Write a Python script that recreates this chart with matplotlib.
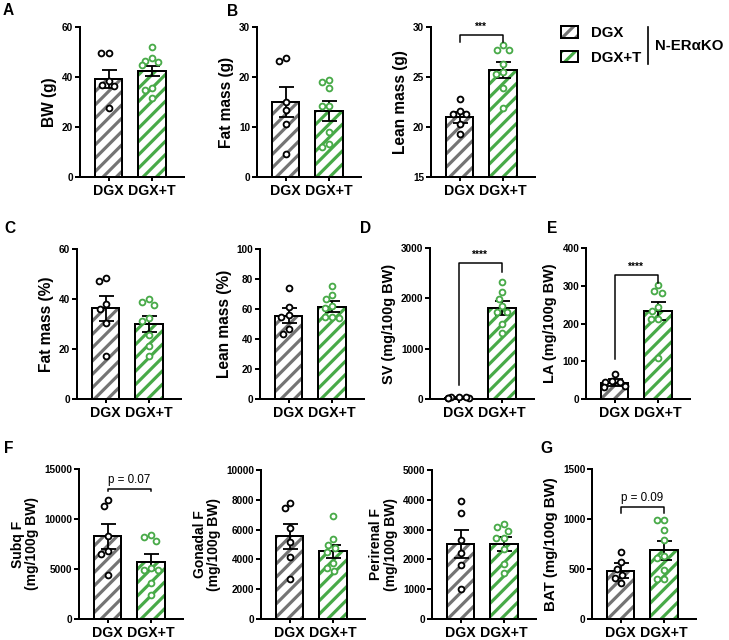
import numpy as np
import matplotlib
matplotlib.use('Agg')
import matplotlib.pyplot as plt
from matplotlib.patches import Patch
from matplotlib.lines import Line2D
from matplotlib.legend_handler import HandlerTuple

DPI = 120
W, H = 729, 640

plt.rcParams['font.family'] = ['Liberation Sans', 'DejaVu Sans']
plt.rcParams['font.weight'] = 'bold'
plt.rcParams['axes.labelweight'] = 'bold'
plt.rcParams['hatch.linewidth'] = 1.9
plt.rcParams['axes.linewidth'] = 1.2

GRAY = '#747474'
GREEN = '#48aa48'
groups = ['DGX', 'DGX+T']

# ---------------- data ----------------
bw_dgx = [49.6, 49.6, 36.9, 36.3, 38.3, 27.6]
bw_dgxt = [52.0, 46.4, 44.7, 46.0, 47.6, 35.6, 34.9, 31.7]
bw_mean = [39.2, 42.3]
bw_sem = [3.7, 2.0]

fat_dgx = [23.9, 23.3, 15.0, 13.5, 10.7, 4.7]
fat_dgxt = [19.0, 17.9, 19.5, 14.3, 14.3, 9.0, 6.0, 6.7]
fat_mean = [15.1, 13.3]
fat_sem = [3.0, 2.0]

lean_dgx = [22.8, 21.3, 21.3, 21.6, 20.3, 19.3]
lean_dgxt = [27.7, 27.7, 28.2, 26.3, 25.5, 25.3, 23.9, 21.9]
lean_mean = [21.0, 25.7]
lean_sem = [0.55, 0.8]

fatp_dgx = [47.2, 48.3, 36.0, 30.5, 17.3, 38.0]
fatp_dgxt = [39.9, 37.6, 38.7, 32.3, 31.3, 25.6, 21.2, 17.2]
fatp_mean = [36.3, 30.0]
fatp_sem = [4.9, 3.3]

leanp_dgx = [74.2, 61.1, 56.0, 43.1, 46.4, 54.4]
leanp_dgxt = [75.6, 69.3, 66.7, 62.0, 60.4, 54.4, 54.4, 53.8]
leanp_mean = [55.6, 61.6]
leanp_sem = [4.8, 3.7]

sv_dgx = [35, 15, 40, 20, 30, 10]
sv_dgxt = [2323, 2124, 1991, 1838, 1726, 1726, 1493, 1307]
sv_mean = [25, 1805]
sv_sem = [8, 133]

la_dgx = [66, 47, 45, 44, 33, 35]
la_dgxt = [285, 282, 302, 232, 245, 211, 212, 108]
la_mean = [43.4, 232]
la_sem = [8.6, 24]

subq_dgx = [11933, 11267, 8333, 6833, 6533, 4433]
subq_dgxt = [8433, 7833, 8167, 5100, 4933, 4933, 3600, 2433]
subq_mean = [8267, 5700]
subq_sem = [1266, 800]

gon_dgx = [7422, 7803, 6076, 5179, 4148, 2691]
gon_dgxt = [6906, 5381, 5000, 4776, 4507, 3767, 3430, 3251]
gon_mean = [5561, 4552]
gon_sem = [830, 448]

peri_dgx = [3973, 3571, 2656, 2210, 1797, 1004]
peri_dgxt = [3181, 3103, 2969, 2734, 2734, 2344, 1853, 1540]
peri_mean = [2511, 2511]
peri_sem = [480, 235]

bat_dgx = [667, 567, 500, 443, 360, 410]
bat_dgxt = [987, 987, 893, 787, 627, 610, 493, 400, 400]
bat_mean = [483, 687]
bat_sem = [77, 96]

# ---------------- layout helpers ----------------
fig = plt.figure(figsize=(W / DPI, H / DPI), dpi=DPI)

AX_W = 104            # px
UNIT_PX = 43.5        # px between bar centres
XLIM = (-28.5 / UNIT_PX, 1 + 32 / UNIT_PX)
BAR_W = 27.5 / UNIT_PX


def add_ax(left, top, bottom):
    return fig.add_axes([left / W, 1 - bottom / H, AX_W / W, (bottom - top) / H])


def swarm(vals, px_per_unit, d=7.5, lim=10.5):
    vals = np.asarray(vals, float)
    order = np.argsort(-vals, kind='stable')
    placed = []
    offs = np.zeros(len(vals))
    for i in order:
        y = vals[i] * px_per_unit
        cands = [0.0]
        for (px, py) in placed:
            dy = y - py
            if abs(dy) < d:
                dx = np.sqrt(d * d - dy * dy)
                cands += [px + dx, px - dx]
        cands.sort(key=lambda c: (abs(c), c))
        chosen = None
        for c in cands:
            if all((c - px) ** 2 + (y - py) ** 2 >= d * d - 1e-6 for px, py in placed):
                chosen = c
                break
        if chosen is None:
            chosen = cands[-1]
        chosen = float(np.clip(chosen, -lim, lim))
        placed.append((chosen, y))
        offs[i] = chosen
    return offs / UNIT_PX


def panel(left, top, bottom, pts, means, sems, ylim, ystep, ylabel,
          bracket=None, btext=None, bweight='bold', bsize=6, lsize=9.3):
    ax = add_ax(left, top, bottom)
    xs = np.arange(2)
    cols = [GRAY, GREEN]
    ax.bar(xs, means, BAR_W, color='white', edgecolor=cols, hatch='///',
           linewidth=0, zorder=1)
    ax.bar(xs, means, BAR_W, fill=False, edgecolor='black', linewidth=1.2, zorder=2)
    ax.errorbar(xs, means, yerr=sems, fmt='none', ecolor='black',
                elinewidth=1.1, capsize=4.5, capthick=1.1, zorder=3)
    ppu = (bottom - top) / (ylim[1] - ylim[0])
    for k in range(2):
        off = swarm(pts[k], ppu)
        ax.plot(k + off, pts[k], 'o', ms=3.5, mfc='white',
                mec='black' if k == 0 else GREEN, mew=1.1, zorder=4,
                clip_on=False)
    ax.set_xlim(*XLIM)
    ax.set_ylim(*ylim)
    ax.set_yticks(np.arange(ylim[0], ylim[1] + ystep / 2, ystep))
    ax.set_xticks(xs)
    ax.set_xticklabels(groups, fontsize=8.5, fontweight='bold')
    ax.tick_params(axis='y', direction='out', length=3, width=1.2,
                   labelsize=6, pad=1)
    ax.tick_params(axis='x', direction='out', length=2.5, width=1.2, pad=1.5)
    for s in ['top', 'right']:
        ax.spines[s].set_visible(False)
    ax.set_ylabel(ylabel, fontsize=lsize, fontweight='bold', labelpad=3,
                  linespacing=1.05)
    if bracket is not None:
        yl, yt, yr = bracket
        ax.plot([0, 0, 1, 1], [yl, yt, yt, yr], color='black', lw=0.9,
                zorder=5, clip_on=False)
        ax.text(0.5, yt + (ylim[1] - ylim[0]) * 0.02, btext, ha='center',
                va='bottom', fontsize=bsize, fontweight=bweight)
    return ax


# Row 1
panel(80, 27, 177, [bw_dgx, bw_dgxt], bw_mean, bw_sem, (0, 60), 20, 'BW (g)')
panel(257, 27, 177, [fat_dgx, fat_dgxt], fat_mean, fat_sem, (0, 30), 10, 'Fat mass (g)')
panel(431, 27, 177, [lean_dgx, lean_dgxt], lean_mean, lean_sem, (15, 30), 5,
      'Lean mass (g)', bracket=(28.5, 29.2, 28.5), btext='***', bsize=6)

# Row 2
panel(77, 249, 399, [fatp_dgx, fatp_dgxt], fatp_mean, fatp_sem, (0, 60), 20, 'Fat mass (%)')
panel(260, 249, 399, [leanp_dgx, leanp_dgxt], leanp_mean, leanp_sem, (0, 100), 20, 'Lean mass (%)')
panel(430, 248, 399, [sv_dgx, sv_dgxt], sv_mean, sv_sem, (0, 3000), 1000,
      'SV (mg/100g BW)', bracket=(280, 2700, 2515), btext='****', bsize=6, lsize=8.7)
panel(586, 248, 399, [la_dgx, la_dgxt], la_mean, la_sem, (0, 400), 100,
      'LA (mg/100g BW)', bracket=(105, 329, 307), btext='****', bsize=6, lsize=8.7)

# Row 3
panel(79, 469, 619, [subq_dgx, subq_dgxt], subq_mean, subq_sem, (0, 15000), 5000,
      'Subq F\n(mg/100g BW)', bracket=(12767, 13033, 12767), btext='p = 0.07',
      bweight='normal', bsize=7, lsize=8.3)
panel(261, 470, 619, [gon_dgx, gon_dgxt], gon_mean, gon_sem, (0, 10000), 2000,
      'Gonadal F\n(mg/100g BW)', lsize=8.3)
panel(432, 470, 619, [peri_dgx, peri_dgxt], peri_mean, peri_sem, (0, 5000), 1000,
      'Perirenal F\n(mg/100g BW)', lsize=8.3)
panel(592, 469, 619, [bat_dgx, bat_dgxt], bat_mean, bat_sem, (0, 1500), 500,
      'BAT (mg/100g BW)', bracket=(1060, 1120, 1060), btext='p = 0.09',
      bweight='normal', bsize=7, lsize=9.0)

# Panel letters
letters = [('A', 3, 3), ('B', 227, 4), ('C', 4, 221), ('D', 360, 221),
           ('E', 547, 221), ('F', 4, 441), ('G', 540, 441)]
for t, x, y in letters:
    fig.text(x / W, 1 - y / H, t, fontsize=9.3, fontweight='bold', ha='left', va='top')

# Legend
h1 = (Patch(facecolor='white', edgecolor=GRAY, hatch='///', linewidth=0),
      Patch(fill=False, edgecolor='black', linewidth=1.2))
h2 = (Patch(facecolor='white', edgecolor=GREEN, hatch='///', linewidth=0),
      Patch(fill=False, edgecolor='black', linewidth=1.2))
fig.legend([h1, h2], groups, handler_map={tuple: HandlerTuple(ndivide=1, pad=0)},
           loc='upper left', bbox_to_anchor=(561 / W, 1 - 26 / H), frameon=False,
           prop={'size': 9, 'weight': 'bold'}, handlelength=1.1, handleheight=0.8,
           handletextpad=0.9, labelspacing=0.7, borderpad=0, borderaxespad=0)
fig.add_artist(Line2D([648 / W, 648 / W], [1 - 27 / H, 1 - 64 / H],
                      transform=fig.transFigure, color='black', lw=1.0))
fig.text(655 / W, 1 - 46 / H, 'N-ER\u03b1KO', fontsize=9, fontweight='bold',
         ha='left', va='center')

fig.savefig('out.png', dpi=DPI)
